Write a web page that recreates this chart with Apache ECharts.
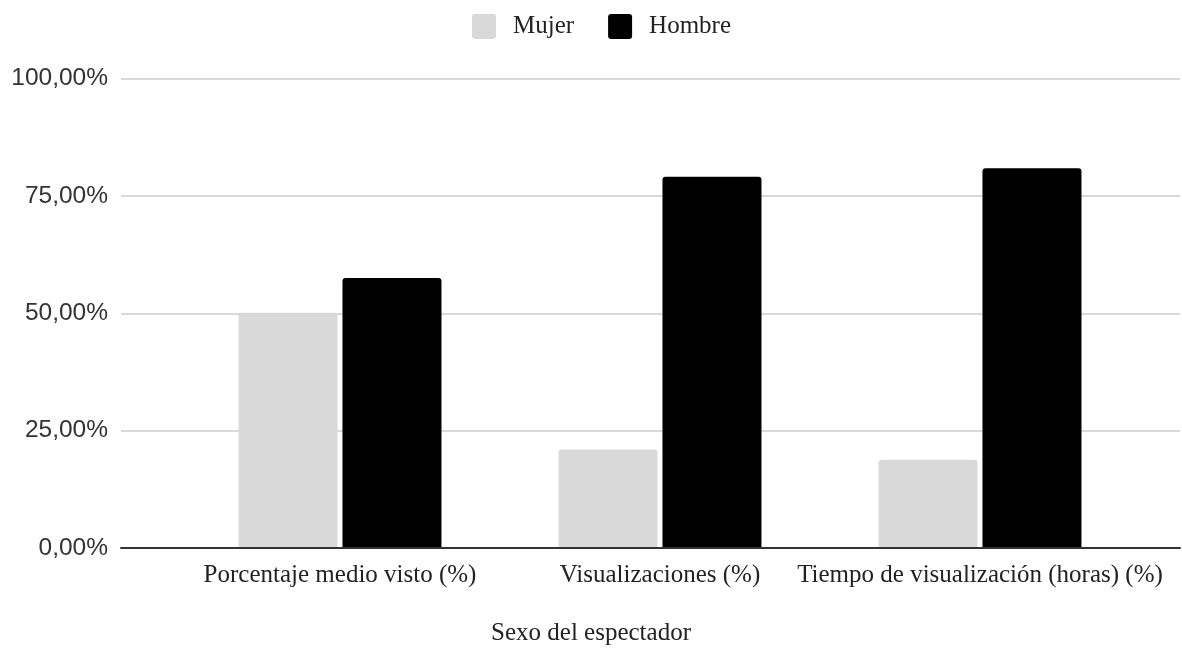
<!DOCTYPE html>
<html>
<head>
<meta charset="utf-8">
<script src="https://cdn.jsdelivr.net/npm/echarts@6/dist/echarts.min.js"></script>
<style>html,body{margin:0;padding:0;background:#fff}#c{width:1182px;height:649px}</style>
</head>
<body>
<div id="c"></div>
<script>
var categories = ['Porcentaje medio visto (%)', 'Visualizaciones (%)', 'Tiempo de visualización (horas) (%)'];
var seriesNames = ['Mujer', 'Hombre'];
var mujer = [50.1, 21.0, 18.8];
var hombre = [57.5, 79.1, 80.9];
var yTicks = ['0,00%', '25,00%', '50,00%', '75,00%', '100,00%'];
var axisTitle = 'Sexo del espectador';

var chart = echarts.init(document.getElementById('c'));
var serif = '"Liberation Serif", "Times New Roman", serif';
var sans = '"Liberation Sans", Arial, sans-serif';
var T = 78.5, B = 101;
chart.setOption({
  animation: false,
  color: ['#d9d9d9', '#000000'],
  legend: {
    data: seriesNames,
    left: 472, top: 14, padding: 0,
    itemWidth: 24, itemHeight: 25, itemGap: 34,
    icon: 'path://M3,0 L21,0 Q24,0 24,3 L24,22 Q24,25 21,25 L3,25 Q0,25 0,22 L0,3 Q0,0 3,0 Z',
    textStyle: { fontFamily: serif, fontSize: 25, color: '#222', padding: [0, 0, 0, 12] }
  },
  grid: [
    { left: 180, right: 42, top: T, bottom: B },
    { left: 121, right: 2, top: T, bottom: B }
  ],
  xAxis: [
    { gridIndex: 0, type: 'category', data: categories,
      axisLine: { show: false }, axisTick: { show: false },
      axisLabel: { margin: 15, fontFamily: serif, fontSize: 25, color: '#222', interval: 0 } },
    { gridIndex: 1, type: 'value', min: 0, max: 1, z: 5,
      axisLine: { show: true, lineStyle: { color: '#333', width: 2 } },
      axisTick: { show: false }, axisLabel: { show: false }, splitLine: { show: false } }
  ],
  yAxis: [
    { gridIndex: 0, type: 'value', min: 0, max: 100, interval: 25, show: false, splitLine: { show: false } },
    { gridIndex: 1, type: 'value', min: 0, max: 100, interval: 25,
      axisLine: { show: false }, axisTick: { show: false },
      splitLine: { lineStyle: { color: '#cccccc', width: 1.5 } },
      axisLabel: { margin: 13, fontFamily: sans, fontSize: 24.5, color: '#333',
        formatter: function (v) { return yTicks[Math.round(v / 25)]; } } }
  ],
  graphic: [{
    type: 'text', left: 'center', top: 621,
    style: { text: axisTitle, font: '25px ' + serif, fill: '#222' }
  }],
  series: [
    { name: seriesNames[0], type: 'bar', xAxisIndex: 0, yAxisIndex: 0, data: mujer,
      barWidth: 99, barGap: '5%', itemStyle: { borderRadius: [3, 3, 0, 0] } },
    { name: seriesNames[1], type: 'bar', xAxisIndex: 0, yAxisIndex: 0, data: hombre,
      barWidth: 99, barGap: '5%', itemStyle: { borderRadius: [3, 3, 0, 0] } }
  ]
});
</script>
</body>
</html>
